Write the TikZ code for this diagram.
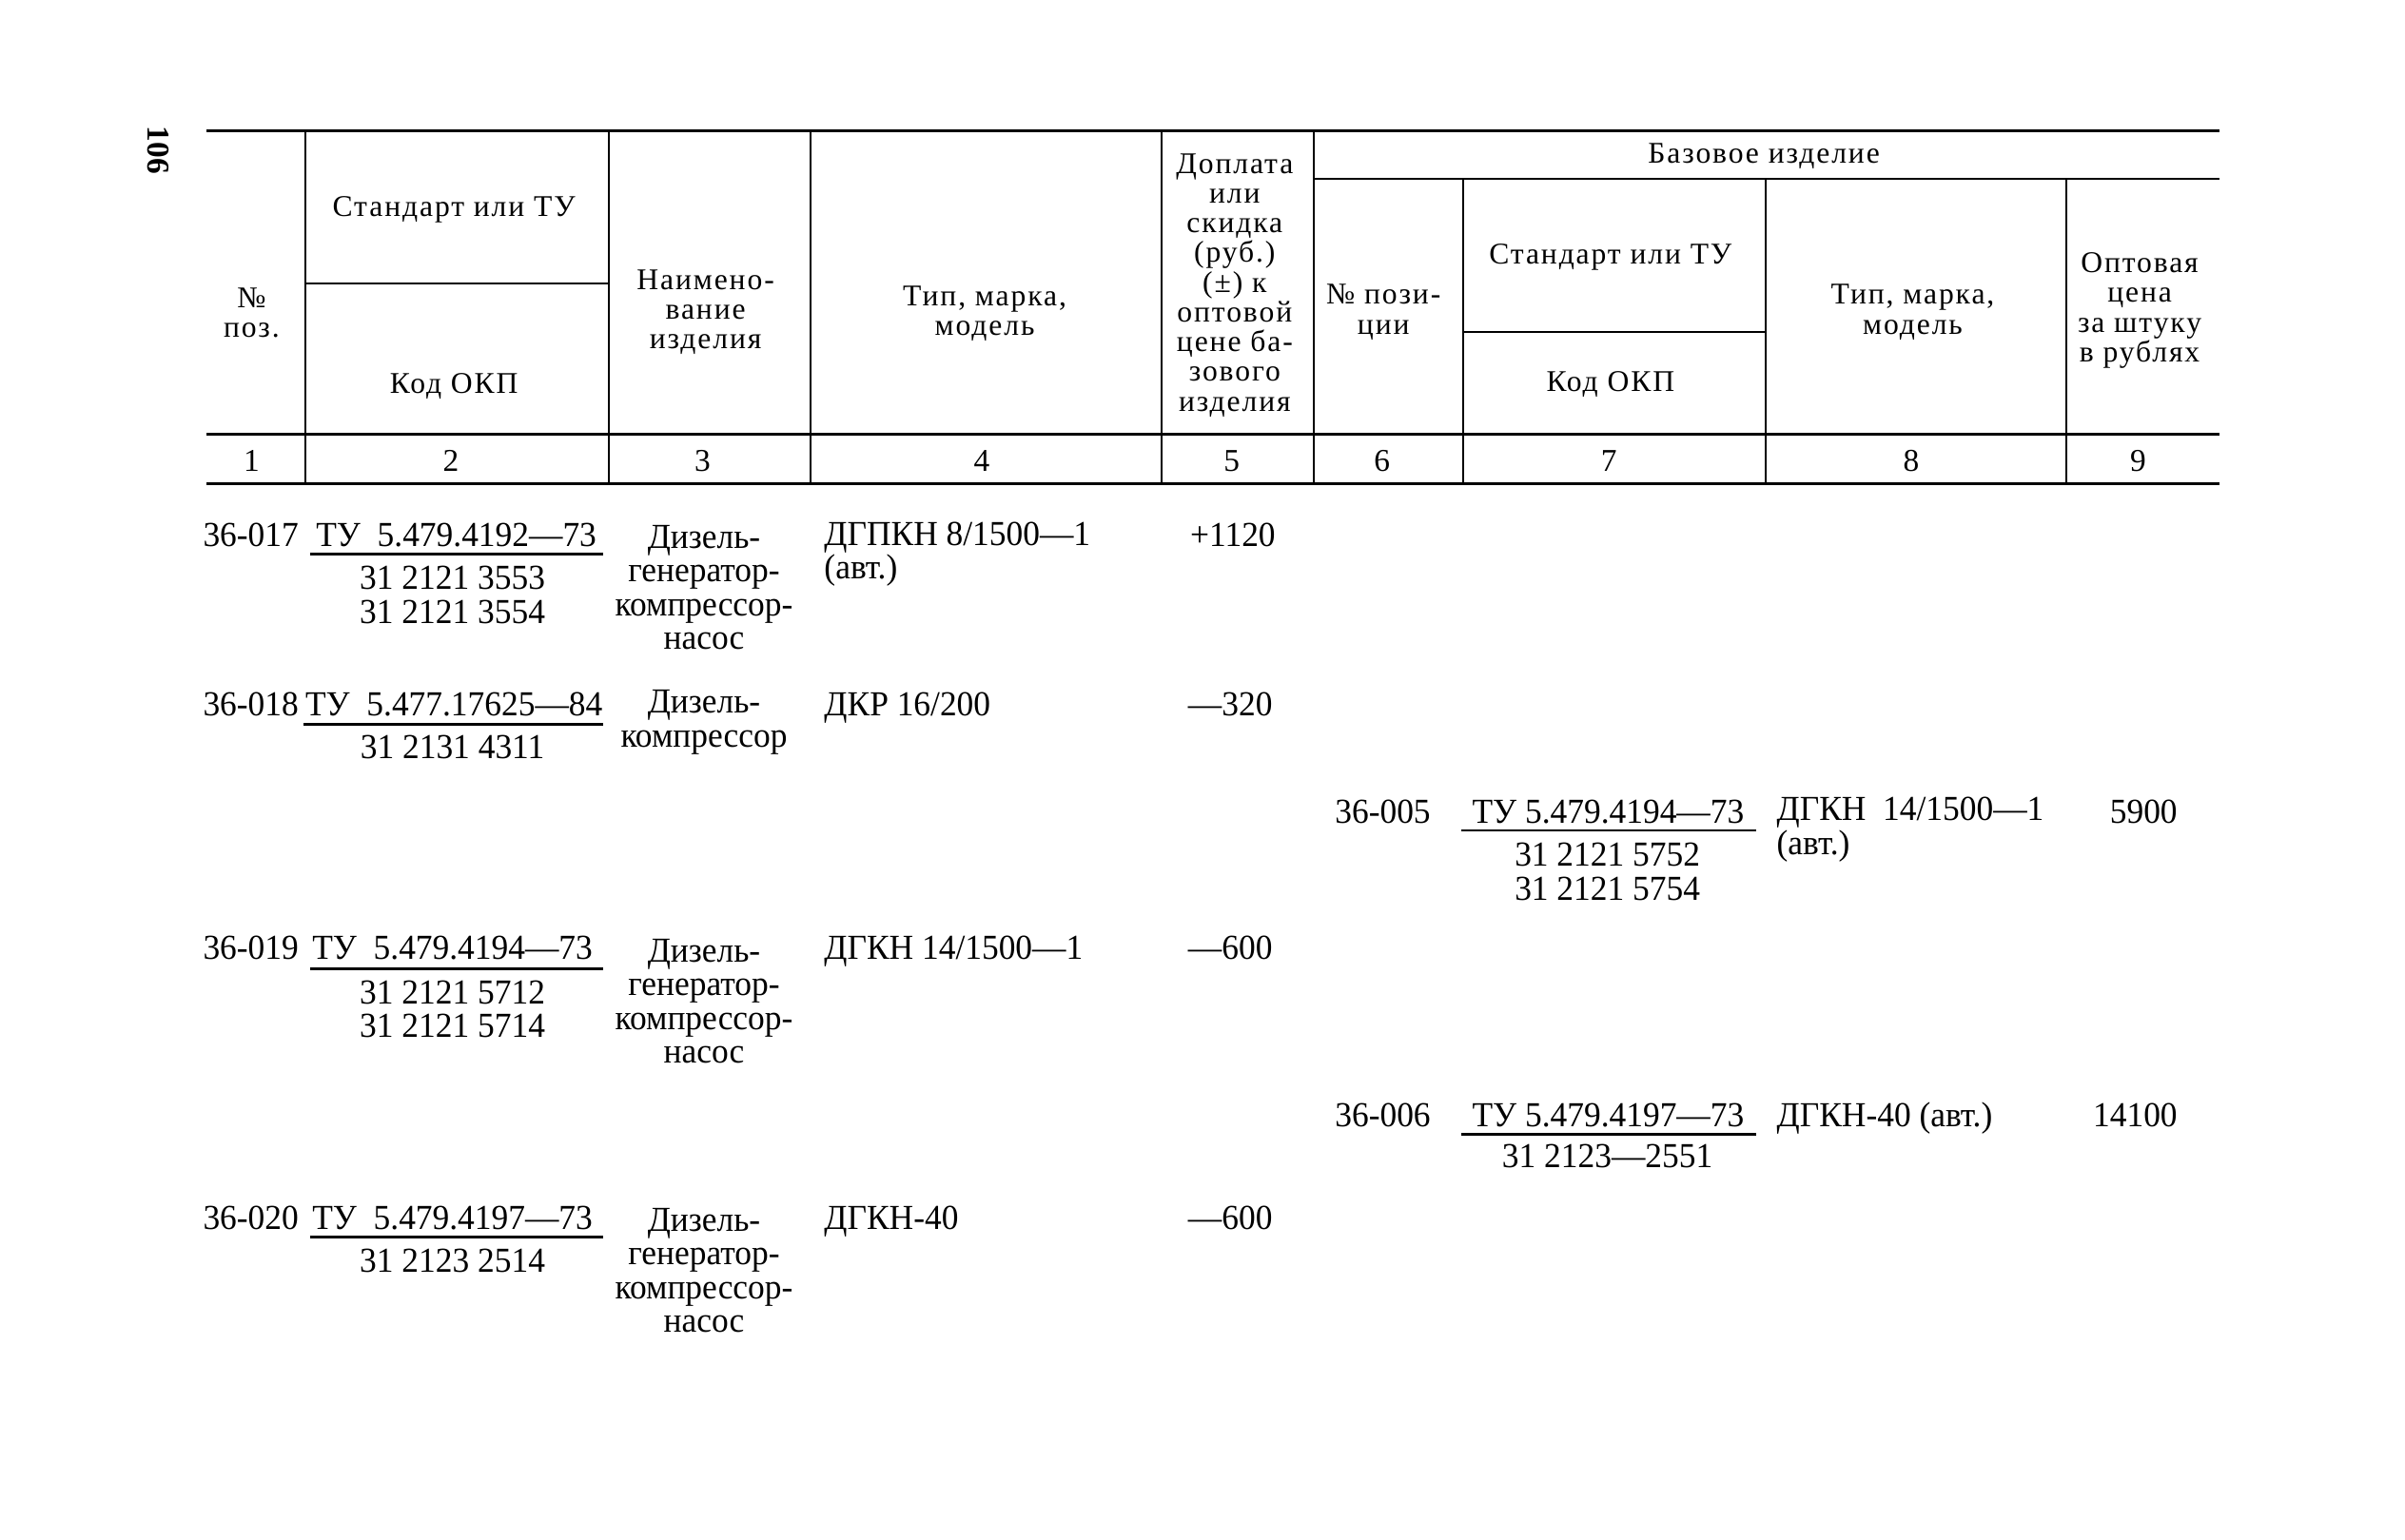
\documentclass[tikz,border=0pt]{standalone}
\usepackage{fontspec}
\setmainfont{Liberation Serif}
\newfontfamily\hdrfont[LetterSpace=6]{Liberation Serif}
\newfontfamily\bodyfont[FakeStretch=0.96]{Liberation Serif}
\begin{document}
\begin{tikzpicture}[x=0.016122cm,y=-0.016122cm,
  hrule/.style={line width=0.85pt},
  vrule/.style={line width=0.6pt},
  uline/.style={line width=0.8pt},
  hd/.style={inner sep=0pt, align=center, font=\hdrfont\fontsize{9}{8.9}\selectfont},
  num/.style={inner sep=0pt, text height=6.5pt, text depth=0pt, font=\fontsize{9.5}{9}\selectfont},
  bd/.style={inner sep=0pt, text height=7pt, text depth=0pt, font=\bodyfont\fontsize{10.5}{10.1}\selectfont},
  bdm/.style={inner sep=0pt, align=center, font=\bodyfont\fontsize{10.5}{10.1}\selectfont},
  bdl/.style={inner sep=0pt, align=left, font=\bodyfont\fontsize{10.5}{10.1}\selectfont},
]
\useasboundingbox (0,0) rectangle (1568,1003.6);
% ---------- frame ----------
\draw[hrule] (134.6,85) -- (1447,85);
\draw[vrule] (856.5,116.6) -- (1447,116.6);
\foreach \x in {199,397,528.5,757.3,856.8}{\draw[vrule] (\x,85) -- (\x,315.5);}
\foreach \x in {954,1151.2,1347.2}{\draw[vrule] (\x,116.6) -- (\x,315.5);}
\draw[vrule] (199,184.8) -- (397,184.8);
\draw[vrule] (954,216.5) -- (1151.2,216.5);
\draw[hrule] (134.6,283) -- (1447,283);
\draw[hrule] (134.6,315.5) -- (1447,315.5);
% ---------- page number ----------
\node[rotate=-90, inner sep=0pt, font=\bfseries\fontsize{9.5}{9.5}\selectfont] (pg) at (103,98) {106};
% ---------- header ----------
\node[hd] (h1) at (164,204) {№\\поз.};
\node[hd] (h2a) at (296,137) {Стандарт или ТУ};
\node[hd] (h2b) at (296,252) {Код ОКП};
\node[hd] (h3) at (460,203.5) {Наимено-\\вание\\изделия};
\node[hd] (h4) at (642,204.5) {Тип, марка,\\модель};
\node[hd] (h5) at (805,186) {Доплата\\или\\скидка\\(руб.)\\(±) к\\оптовой\\цене ба-\\зового\\изделия};
\node[hd] (hb) at (1150,102) {Базовое изделие};
\node[hd] (h6) at (902,203.5) {№ пози-\\ции};
\node[hd] (h7a) at (1050,168) {Стандарт или ТУ};
\node[hd] (h7b) at (1050,250.5) {Код ОКП};
\node[hd] (h8) at (1247,203.5) {Тип, марка,\\модель};
\node[hd] (h9) at (1395,202.5) {Оптовая\\цена\\за штуку\\в рублях};
% ---------- column numbers ----------
\foreach \x/\t [count=\i] in {164/1,294/2,458/3,640/4,803/5,901/6,1049/7,1246/8,1394/9}
  {\node[num] (n\i) at (\x,300) {\t};}
% ---------- row 36-017 ----------
\node[bd, anchor=west] (p17) at (132,349) {36-017};
\node[bd] (t17) at (297.5,349) {ТУ\ \ 5.479.4192—73};
\draw[uline] (202,361.5) -- (393,361.5);
\node[bdm] (k17) at (295,388) {31 2121 3553\\31 2121 3554};
\node[bdm] (m17) at (459,383) {Дизель-\\генератор-\\компрессор-\\насос};
\node[bdl, anchor=west] (s17) at (537,361.5) {ДГПКН 8/1500—1\\(авт.)};
\node[bd, anchor=east] (d17) at (832,349) {+1120};
% ---------- row 36-018 ----------
\node[bd, anchor=west] (p18) at (132,459) {36-018};
\node[bd] (t18) at (296,459) {ТУ\ \ 5.477.17625—84};
\draw[uline] (198,472.5) -- (393,472.5);
\node[bd] (k18) at (295,487) {31 2131 4311};
\node[bdm] (m18) at (459,471) {Дизель-\\компрессор};
\node[bd, anchor=west] (s18) at (537,459) {ДКР 16/200};
\node[bd, anchor=east] (d18) at (830,459) {—320};
% ---------- row 36-005 (base) ----------
\node[bd, anchor=west] (p05) at (870,529) {36-005};
\node[bd] (t05) at (1048.5,529) {ТУ 5.479.4194—73};
\draw[uline] (953,541.5) -- (1145,541.5);
\node[bdm] (k05) at (1048,568.5) {31 2121 5752\\31 2121 5754};
\node[bdl, anchor=west] (s05) at (1158,541) {ДГКН\ \ 14/1500—1\\(авт.)};
\node[bd, anchor=east] (d05) at (1420,529) {5900};
% ---------- row 36-019 ----------
\node[bd, anchor=west] (p19) at (132,618) {36-019};
\node[bd] (t19) at (295,618) {ТУ\ \ 5.479.4194—73};
\draw[uline] (202,631.5) -- (393,631.5);
\node[bdm] (k19) at (295,658) {31 2121 5712\\31 2121 5714};
\node[bdm] (m19) at (459,653) {Дизель-\\генератор-\\компрессор-\\насос};
\node[bd, anchor=west] (s19) at (537,618) {ДГКН 14/1500—1};
\node[bd, anchor=east] (d19) at (830,618) {—600};
% ---------- row 36-006 (base) ----------
\node[bd, anchor=west] (p06) at (870,727) {36-006};
\node[bd] (t06) at (1048.5,727) {ТУ 5.479.4197—73};
\draw[uline] (953,739.5) -- (1145,739.5);
\node[bd] (k06) at (1048,754) {31 2123—2551};
\node[bd, anchor=west] (s06) at (1158,727) {ДГКН-40 (авт.)};
\node[bd, anchor=east] (d06) at (1420,727) {14100};
% ---------- row 36-020 ----------
\node[bd, anchor=west] (p20) at (132,794) {36-020};
\node[bd] (t20) at (295,794) {ТУ\ \ 5.479.4197—73};
\draw[uline] (202,806.5) -- (393,806.5);
\node[bd] (k20) at (295,822) {31 2123 2514};
\node[bdm] (m20) at (459,828.5) {Дизель-\\генератор-\\компрессор-\\насос};
\node[bd, anchor=west] (s20) at (537,794) {ДГКН-40};
\node[bd, anchor=east] (d20) at (830,794) {—600};
\end{tikzpicture}
\end{document}
